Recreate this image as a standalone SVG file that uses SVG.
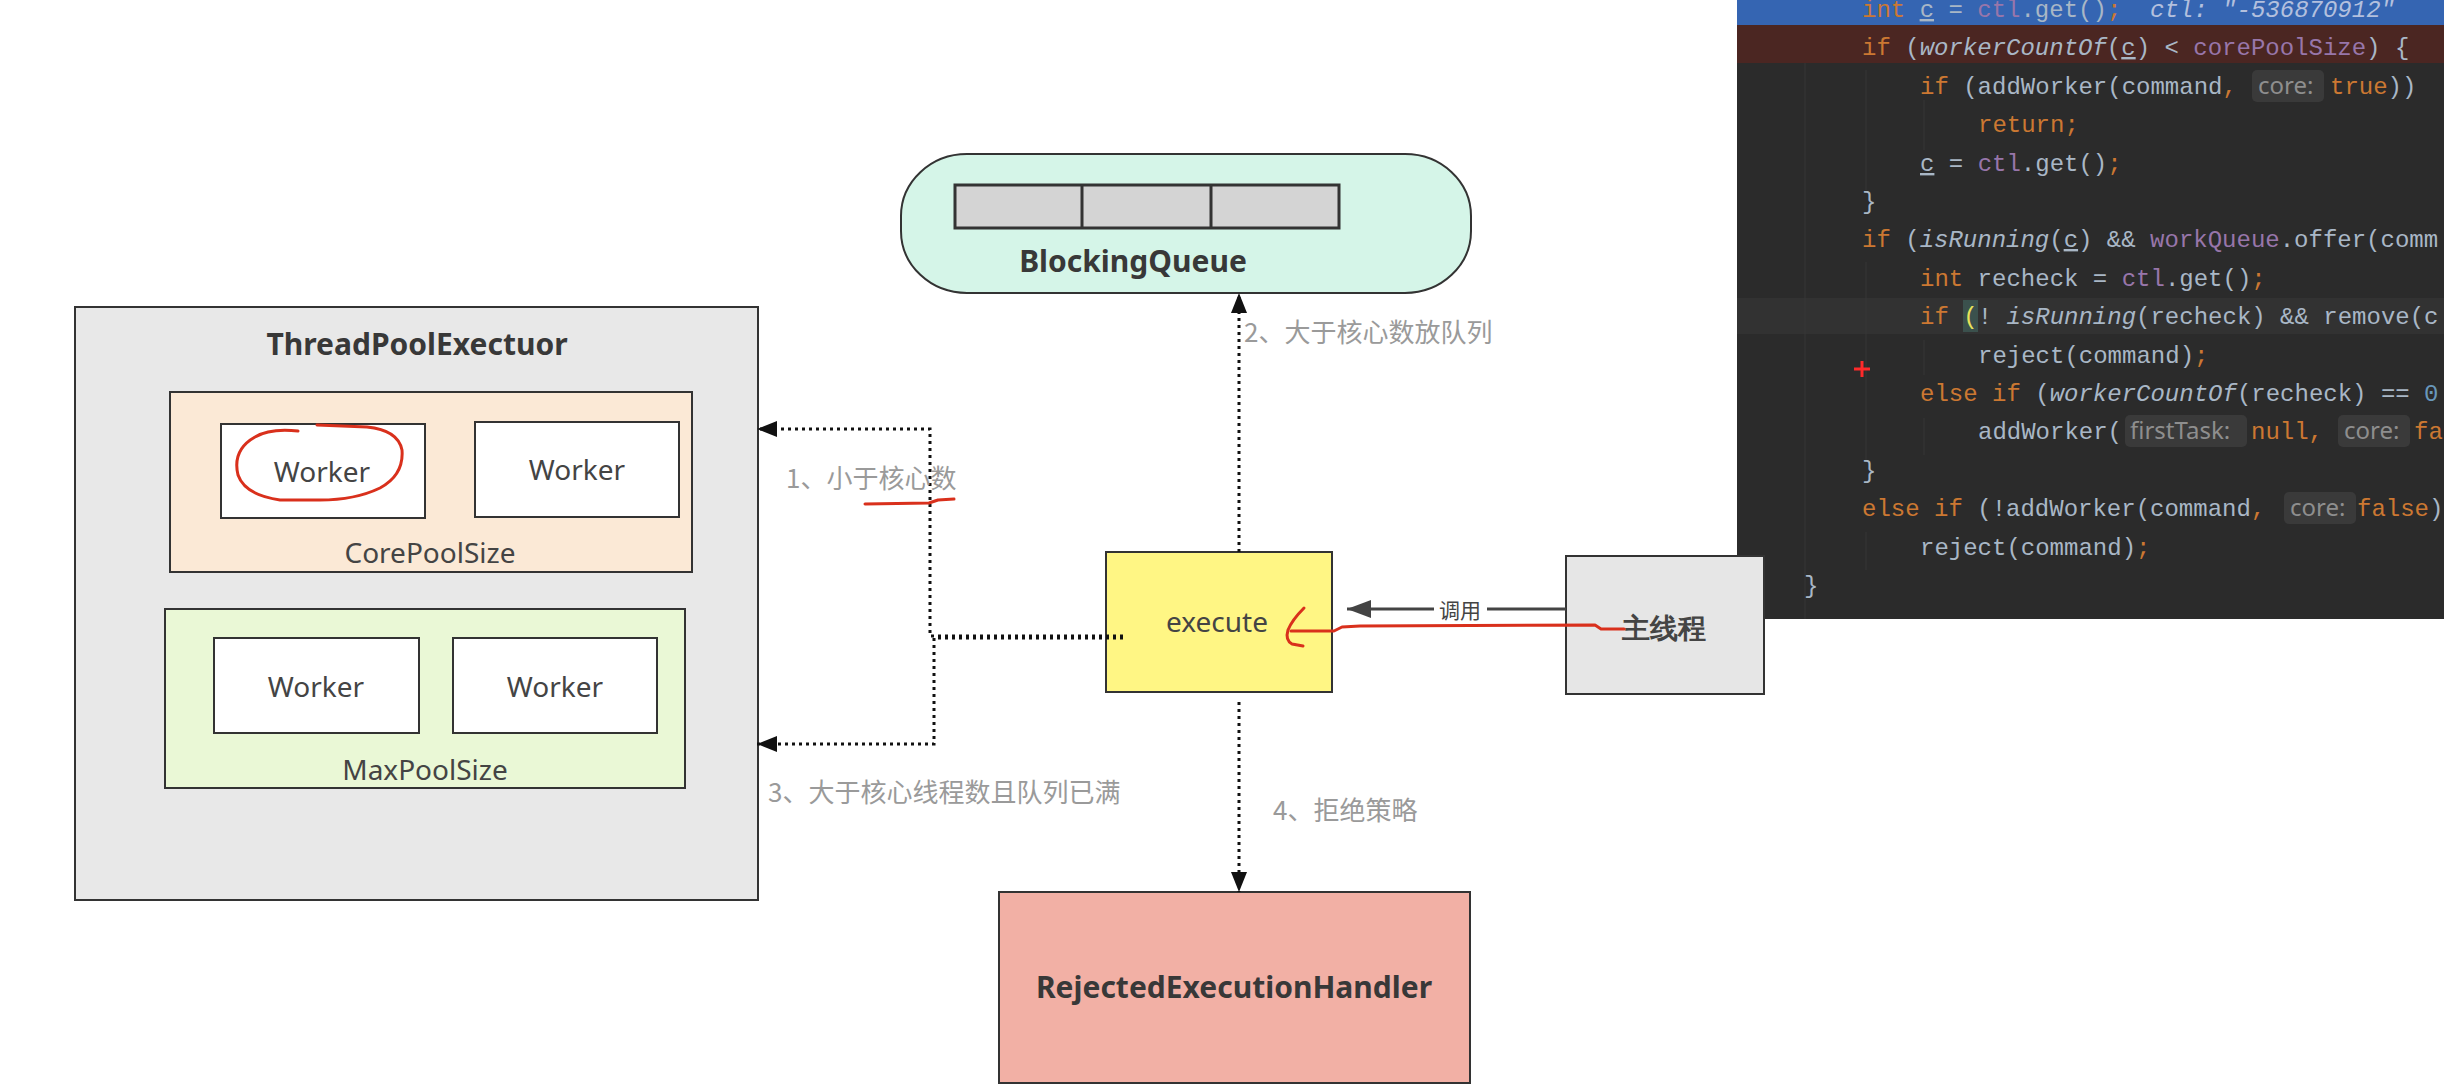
<svg xmlns="http://www.w3.org/2000/svg" width="2444" height="1090" viewBox="0 0 2444 1090">
<defs>
<style>
.box{stroke:#333;stroke-width:2}
.ttl{font-family:"Noto Sans","Liberation Sans","Noto Sans CJK SC",sans-serif;font-weight:bold;font-size:30px;fill:#383838;text-anchor:middle}
.lbl{font-family:"Noto Sans","Liberation Sans",sans-serif;font-size:28px;fill:#444;text-anchor:middle}
.cjk{font-family:"Noto Sans CJK SC","Noto Sans",sans-serif;font-size:26px;fill:#9a9a9a}
.dot{fill:none;stroke:#111;stroke-width:3;stroke-dasharray:3 4}
.red{fill:none;stroke:#d9301c;stroke-width:3;stroke-linecap:round;stroke-linejoin:round}
.code{font-family:"Liberation Mono","DejaVu Sans Mono",monospace;font-size:24px;fill:#a9b7c6}
.kw{fill:#cc7832}
.fld{fill:#9876aa}
.it{font-style:italic}
.ul{text-decoration:underline}
.num{fill:#6897bb}
.dbg{fill:#b3c0de;font-style:italic}
.hint{font-family:"Noto Sans","Liberation Sans",sans-serif;font-size:24px;fill:#8e8e8e}
.hintbg{fill:#3a3a3a}
</style>
<marker id="ah" viewBox="0 0 20 16" refX="20" refY="8" markerWidth="20" markerHeight="16" markerUnits="userSpaceOnUse" orient="auto"><path d="M0,0 L20,8 L0,16 z" fill="#111"/></marker>
<marker id="ahc" viewBox="0 0 24 18" refX="24" refY="9" markerWidth="24" markerHeight="18" markerUnits="userSpaceOnUse" orient="auto"><path d="M0,0 L24,9 L0,18 z" fill="#444"/></marker>
</defs>
<rect width="2444" height="1090" fill="#ffffff"/>

<g id="code-panel">
<rect x="1737" y="0" width="707" height="619" fill="#2b2b2b"/>
<rect x="1737" y="0" width="707" height="25" fill="#3565b2"/>
<rect x="1737" y="25" width="707" height="38" fill="#4b2622"/>
<rect x="1737" y="298" width="707" height="36" fill="#323232"/>
<line x1="1805" y1="63" x2="1805" y2="619" stroke="#363636" stroke-width="1"/>
<line x1="1866" y1="70" x2="1866" y2="190" stroke="#373737" stroke-width="1"/>
<line x1="1924" y1="100" x2="1924" y2="150" stroke="#373737" stroke-width="1"/>
<line x1="1866" y1="262" x2="1866" y2="460" stroke="#373737" stroke-width="1"/>
<line x1="1924" y1="340" x2="1924" y2="375" stroke="#373737" stroke-width="1"/>
<line x1="1924" y1="418" x2="1924" y2="455" stroke="#373737" stroke-width="1"/>
<line x1="1866" y1="532" x2="1866" y2="570" stroke="#373737" stroke-width="1"/>
<text class="code" x="1862" y="17" xml:space="preserve"><tspan class="kw">int</tspan> <tspan class="ul">c</tspan> = <tspan class="fld">ctl</tspan>.get()<tspan class="kw">;</tspan>  <tspan class="dbg">ctl: "-536870912"</tspan></text>
<text class="code" x="1862" y="55" xml:space="preserve"><tspan class="kw">if</tspan> (<tspan class="it">workerCountOf</tspan>(<tspan class="ul">c</tspan>) &lt; <tspan class="fld">corePoolSize</tspan>) {</text>
<text class="code" x="1920" y="94" xml:space="preserve"><tspan class="kw">if</tspan> (addWorker(command<tspan class="kw">,</tspan></text>
<rect class="hintbg" x="2252" y="70" width="72" height="32" rx="5"/>
<text class="hint" x="2258" y="94">core:</text>
<text class="code" x="2330" y="94" xml:space="preserve"><tspan class="kw">true</tspan>))</text>
<text class="code" x="1978" y="132" xml:space="preserve"><tspan class="kw">return;</tspan></text>
<text class="code" x="1920" y="171" xml:space="preserve"><tspan class="ul">c</tspan> = <tspan class="fld">ctl</tspan>.get()<tspan class="kw">;</tspan></text>
<text class="code" x="1862" y="209">}</text>
<text class="code" x="1862" y="247" xml:space="preserve"><tspan class="kw">if</tspan> (<tspan class="it">isRunning</tspan>(<tspan class="ul">c</tspan>) &amp;&amp; <tspan class="fld">workQueue</tspan>.offer(comm</text>
<text class="code" x="1920" y="286" xml:space="preserve"><tspan class="kw">int</tspan> recheck = <tspan class="fld">ctl</tspan>.get()<tspan class="kw">;</tspan></text>
<rect x="1963" y="300" width="15" height="32" fill="#3b514d"/>
<text class="code" x="1920" y="324" xml:space="preserve"><tspan class="kw">if</tspan> <tspan fill="#e8e25a">(</tspan>! <tspan class="it">isRunning</tspan>(recheck) &amp;&amp; remove(c</text>
<text class="code" x="1978" y="363" xml:space="preserve">reject(command)<tspan class="kw">;</tspan></text>
<text class="code" x="1920" y="401" xml:space="preserve"><tspan class="kw">else if</tspan> (<tspan class="it">workerCountOf</tspan>(recheck) == <tspan class="num">0</tspan></text>
<text class="code" x="1978" y="439" xml:space="preserve">addWorker(</text>
<rect class="hintbg" x="2125" y="415" width="122" height="32" rx="5"/>
<text class="hint" x="2130" y="439">firstTask:</text>
<text class="code" x="2251" y="439" xml:space="preserve"><tspan class="kw">null,</tspan></text>
<rect class="hintbg" x="2338" y="415" width="72" height="32" rx="5"/>
<text class="hint" x="2344" y="439">core:</text>
<text class="code" x="2414" y="439" xml:space="preserve"><tspan class="kw">fa</tspan></text>
<text class="code" x="1862" y="478">}</text>
<text class="code" x="1862" y="516" xml:space="preserve"><tspan class="kw">else if</tspan> (!addWorker(command<tspan class="kw">,</tspan></text>
<rect class="hintbg" x="2284" y="492" width="72" height="32" rx="5"/>
<text class="hint" x="2290" y="516">core:</text>
<text class="code" x="2357" y="516" xml:space="preserve"><tspan class="kw">false</tspan>)</text>
<text class="code" x="1920" y="555" xml:space="preserve">reject(command)<tspan class="kw">;</tspan></text>
<text class="code" x="1804" y="593" fill="#7f9fd8">}</text>
<path d="M1862,361 V377 M1854,369 H1870" stroke="#ff2a2a" stroke-width="3"/>
</g>

<g id="thread-pool-executor">
<rect class="box" x="75" y="307" width="683" height="593" fill="#e8e8e8"/>
<text class="ttl" x="417" y="355">ThreadPoolExectuor</text>
</g>
<g id="core-pool">
<rect class="box" x="170" y="392" width="522" height="180" fill="#fbe9d6"/>
<text class="lbl" x="430" y="563" fill="#555">CorePoolSize</text>
</g>
<g id="core-worker-1">
<rect class="box" x="221" y="424" width="204" height="94" fill="#ffffff"/>
<text class="lbl" x="322" y="482">Worker</text>
</g>
<g id="core-worker-2">
<rect class="box" x="475" y="422" width="204" height="95" fill="#ffffff"/>
<text class="lbl" x="577" y="480">Worker</text>
</g>
<g id="max-pool">
<rect class="box" x="165" y="609" width="520" height="179" fill="#eaf8d6"/>
<text class="lbl" x="425" y="780" fill="#555">MaxPoolSize</text>
</g>
<g id="max-worker-1">
<rect class="box" x="214" y="638" width="205" height="95" fill="#ffffff"/>
<text class="lbl" x="316" y="697">Worker</text>
</g>
<g id="max-worker-2">
<rect class="box" x="453" y="638" width="204" height="95" fill="#ffffff"/>
<text class="lbl" x="555" y="697">Worker</text>
</g>

<g id="blocking-queue">
<rect class="box" x="901" y="154" width="570" height="139" rx="66" ry="62" fill="#d5f5e8"/>
<rect x="955" y="185" width="384" height="43" fill="#d4d4d4" stroke="#333" stroke-width="3"/>
<line x1="1082" y1="185" x2="1082" y2="228" stroke="#333" stroke-width="3"/>
<line x1="1211" y1="185" x2="1211" y2="228" stroke="#333" stroke-width="3"/>
<text class="ttl" x="1133" y="272">BlockingQueue</text>
</g>

<g id="execute">
<rect class="box" x="1106" y="552" width="226" height="140" fill="#fff684"/>
<text class="lbl" x="1217" y="632" font-size="30" fill="#333">execute</text>
</g>

<g id="main-thread">
<rect class="box" x="1566" y="556" width="198" height="138" fill="#e6e6e6"/>
<text class="lbl" x="1664" y="638" font-family="Noto Sans CJK SC, sans-serif" font-weight="bold" fill="#383838">主线程</text>
</g>

<g id="rejected-handler">
<rect class="box" x="999" y="892" width="471" height="191" fill="#f2b0a5"/>
<text class="ttl" x="1234" y="998">RejectedExecutionHandler</text>
</g>

<g id="connectors">
<path class="dot" d="M1123,636 H930 V429 H757" marker-end="url(#ah)"/>
<path class="dot" d="M1123,638 H934 V744 H757" marker-end="url(#ah)"/>
<path class="dot" d="M1239,552 V293" marker-end="url(#ah)"/>
<path class="dot" d="M1239,702 V892" marker-end="url(#ah)"/>
<path d="M1566,609 H1487 M1434,609 H1347" fill="none" stroke="#444" stroke-width="3" marker-end="url(#ahc)"/>
<text x="1460" y="618" font-family="Noto Sans CJK SC, sans-serif" font-size="21" fill="#444" text-anchor="middle">调用</text>
<text class="cjk" x="1244" y="342">2、大于核心数放队列</text>
<text class="cjk" x="786" y="488">1、小于核心数</text>
<text class="cjk" x="768" y="802">3、大于核心线程数且队列已满</text>
<text class="cjk" x="1273" y="820">4、拒绝策略</text>
</g>

<g id="annotations">
<path class="red" d="M317,425 L367,427 Q398,430 402,450 Q404,475 380,488 Q355,500 320,500 L280,500 Q245,495 238,475 Q232,450 255,437 Q270,428 298,431"/>
<path class="red" d="M865,504 L929,503 L938,500 L954,499"/>
<path class="red" d="M1304,608 Q1292,620 1288,630 Q1285,640 1292,644 L1303,646"/>
<path class="red" d="M1291,631 L1334,631 L1342,627 L1360,626 L1595,625 L1601,629 L1624,629"/>
</g>
</svg>
